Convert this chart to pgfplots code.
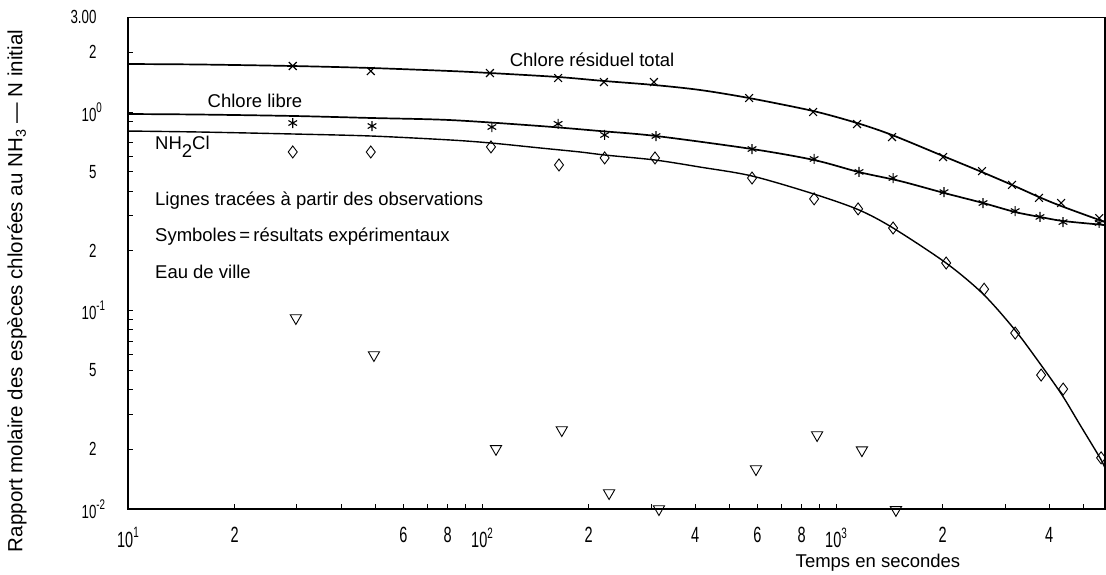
\documentclass[border=0pt]{standalone}
\usepackage{fontspec}
\setmainfont{Liberation Sans}
\usepackage{pgfplots}
\pgfplotsset{compat=1.18}
\newcommand{\tx}[1]{\scalebox{0.66}[1]{\fontsize{22}{22}\selectfont #1}}
\newcommand{\sx}[1]{\raisebox{0.45em}{\fontsize{15}{15}\selectfont #1}}
\newcommand{\ty}[1]{\scalebox{0.7}[1]{\fontsize{19}{19}\selectfont #1}}
\newcommand{\sy}[1]{\rlap{\raisebox{0.45em}{\fontsize{14}{14}\selectfont #1}}}
\begin{document}
\begin{tikzpicture}
\begin{loglogaxis}[
  scale only axis,
  width=977pt, height=491.7pt,
  xmin=10, xmax=5750, ymin=0.01, ymax=3,
  axis line style={line width=1.4pt},
  xtick pos=left, ytick pos=left,
  tick align=inside,
  major tick length=5pt,
  minor tick length=0pt,
  tick style={line width=0.9pt, black},
  xticklabel style={yshift=-15pt},
  yticklabel style={xshift=-28pt},
  xtick={10,20,30,40,50,60,70,80,90,100,200,300,400,500,600,700,800,900,1000,2000,3000,4000,5000},
  xticklabels={{\tx{10\sx{1}}},{\tx{2}},{},{},{},{\tx{6}},{},{\tx{8}},{},{\tx{10\sx{2}}},{\tx{2}},{},{\tx{4}},{},{\tx{6}},{},{\tx{8}},{},{\tx{10\sx{3}}},{\tx{2}},{},{\tx{4}},{}},
  ytick={0.01,0.02,0.03,0.04,0.05,0.06,0.07,0.08,0.09,0.1,0.2,0.3,0.4,0.5,0.6,0.7,0.8,0.9,1,2,3},
  yticklabels={{\ty{10\sy{-2}}},{\ty{2}},{},{},{\ty{5}},{},{},{},{},{\ty{10\sy{-1}}},{\ty{2}},{},{},{\ty{5}},{},{},{},{},{\ty{10\sy{0}}},{\ty{2}},{\ty{3.00}}},
  clip=false,
]
% fitted lines
\addplot[black, line width=1.7pt, smooth, tension=0.5] coordinates {
(10,1.745) (15.97,1.735) (29.25,1.705) (48.58,1.666) (81.2,1.609) (105.3,1.572) (163.9,1.501) (221.1,1.433) (306.1,1.368) (412.9,1.291) (567.8,1.176) (861,1.012) (1146,0.880) (1439,0.766) (2006,0.600) (2585,0.498) (3142,0.429) (3745,0.373) (4321,0.336) (5750,0.279)};
\addplot[black, line width=1.7pt, smooth, tension=0.5] coordinates {
(10,0.977) (15.97,0.971) (29.25,0.955) (48.58,0.933) (81.2,0.911) (145.8,0.850) (215.4,0.802) (310.1,0.757) (579,0.651) (867,0.573) (1161,0.498) (1516,0.449) (2019,0.391) (2602,0.348) (3203,0.3135) (3770,0.296) (4377,0.2824) (5750,0.2695)};
\addplot[black, line width=1.4pt, smooth, tension=0.5] coordinates {
(10,0.802) (15.97,0.793) (29.25,0.775) (48.58,0.757) (81.2,0.723) (106,0.698) (145.8,0.659) (189.1,0.629) (222.6,0.607) (308.1,0.573) (412.9,0.528) (579,0.476) (867,0.386) (1161,0.321) (1449,0.2604) (2045,0.1735) (2602,0.1211) (3203,0.0797) (3794,0.0531) (4349,0.0375) (4890,0.0265) (5568,0.01807) (5750,0.0161)};
% markers
\addplot[only marks, mark=x, mark size=5.5pt, mark options={line width=1.1pt}] coordinates {
(29.2,1.705) (48.5,1.609) (105.3,1.572) (164,1.483) (221,1.416) (306,1.416) (568,1.176) (861,1.0) (1146,0.870) (1439,0.748) (2005,0.593) (2584,0.504) (3140,0.429) (3743,0.369) (4322,0.348) (5535,0.292)};
\addplot[only marks, mark=asterisk, mark size=5pt, mark options={line width=1.1pt}] coordinates {
(29.2,0.880) (48.9,0.850) (106.6,0.840) (164,0.872) (222,0.766) (310,0.757) (579,0.651) (867,0.580) (1161,0.499) (1449,0.465) (2018,0.395) (2601,0.348) (3206,0.317) (3767,0.296) (4375,0.279) (5535,0.276)};
\addplot[only marks, mark=diamond, mark size=6pt, mark options={fill=white, line width=0.9pt}] coordinates {
(29.2,0.629) (48.5,0.629) (106,0.667) (165,0.541) (222,0.587) (308,0.587) (579,0.465) (867,0.365) (1154,0.325) (1449,0.2605) (2046,0.1735) (2619,0.128) (3206,0.0770) (3796,0.0473) (4380,0.0402) (5605,0.0181)};
\addplot[only marks, mark=triangle, mark size=6.5pt, mark options={rotate=180, fill=white, line width=0.9pt}] coordinates {
(29.8,0.0917) (49.5,0.0597) (109.5,0.0201) (168,0.0250) (228.5,0.01204) (316,0.0100) (594,0.0159) (884,0.0236) (1183,0.0198) (1476,0.0099)};
% texts
\node[font=\fontsize{18.5}{20}\selectfont] at (rel axis cs:0.475,0.913) {Chlore résiduel total};
\node[font=\fontsize{18.5}{20}\selectfont] at (rel axis cs:0.130,0.830) {Chlore libre};
\node[font=\fontsize{18.5}{20}\selectfont, anchor=base west, inner sep=0pt] at (rel axis cs:0.0276,0.732) {NH\raisebox{-8pt}{2}Cl};
\node[font=\fontsize{18.5}{20}\selectfont, anchor=west, inner sep=0pt] at (rel axis cs:0.0276,0.628) {Lignes tracées à partir des observations};
\node[font=\fontsize{18.5}{20}\selectfont, anchor=west, inner sep=0pt] at (rel axis cs:0.0276,0.555) {Symboles\,=\,résultats expérimentaux};
\node[font=\fontsize{18.5}{20}\selectfont, anchor=west, inner sep=0pt] at (rel axis cs:0.0276,0.482) {Eau de ville};
\end{loglogaxis}
\node[rotate=90, inner sep=0pt, font=\fontsize{18.5}{20}\selectfont] at (-111pt,218pt) {\resizebox{522pt}{!}{Rapport molaire des espèces chlorées au NH\textsubscript{3} — N initial}};
\node[font=\fontsize{18.5}{20}\selectfont, inner sep=0pt] at (750pt,-54pt) {Temps en secondes};
\pgfresetboundingbox
\path[use as bounding box] (-128pt,-66pt) rectangle (978pt,509pt);
\end{tikzpicture}
\end{document}
